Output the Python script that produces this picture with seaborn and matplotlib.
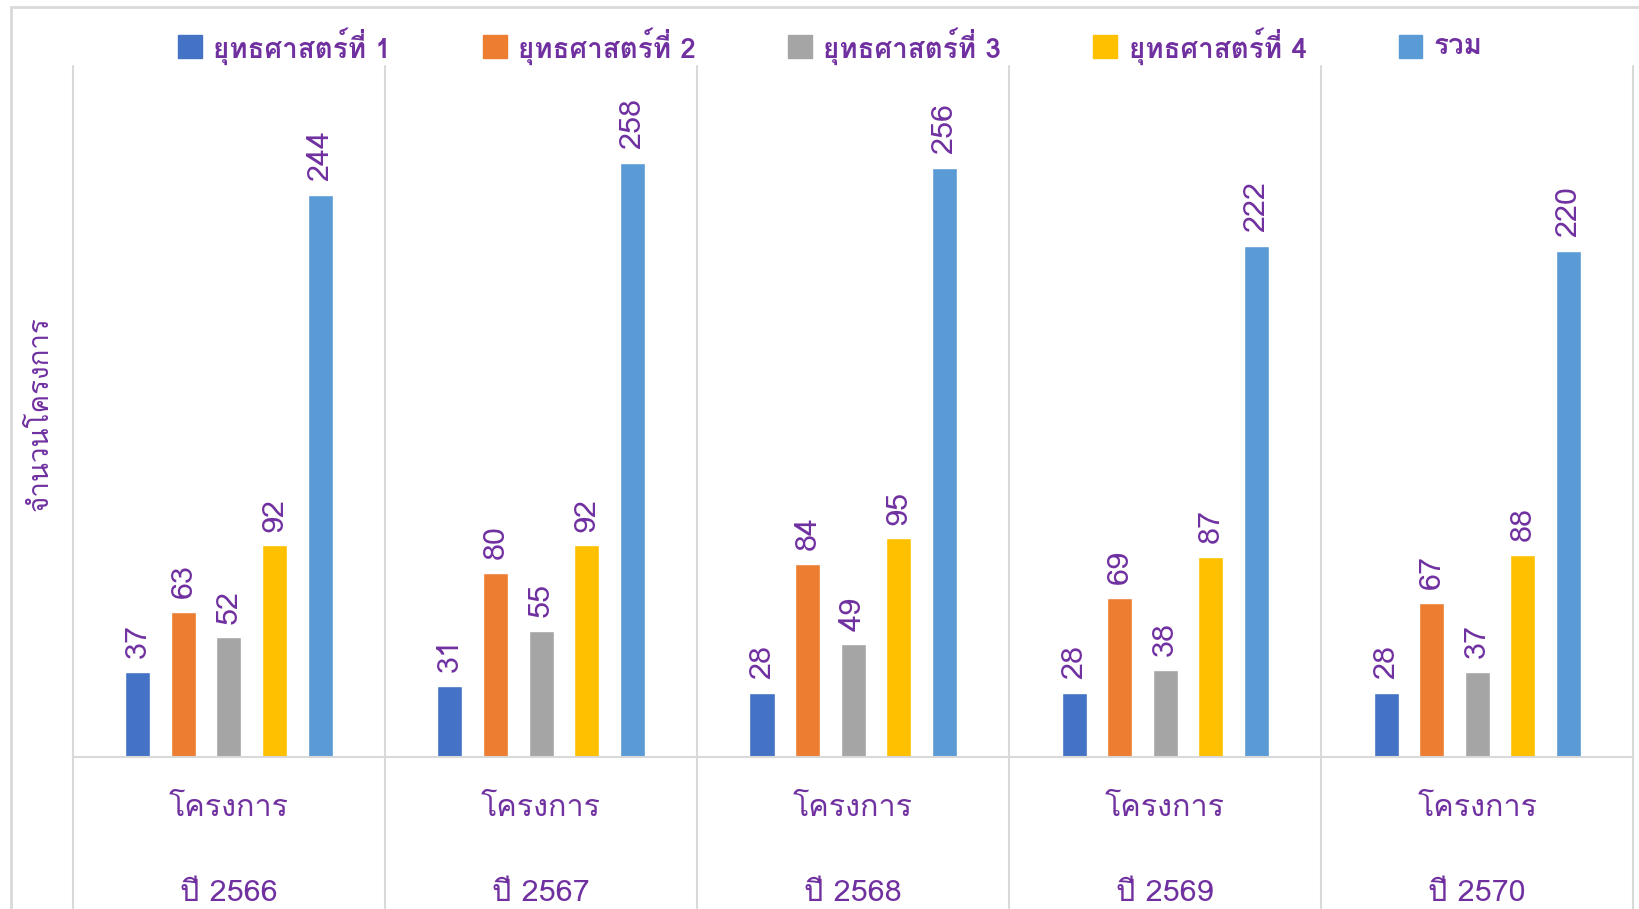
import matplotlib
matplotlib.use("Agg")
import matplotlib.pyplot as plt
from matplotlib import font_manager
from matplotlib.ft2font import FT2Font
from matplotlib.patches import Rectangle
import pandas as pd
import seaborn as sns

# data
years = ["ปี 2566", "ปี 2567", "ปี 2568", "ปี 2569", "ปี 2570"]
series = ["ยุทธศาสตร์ที่ 1", "ยุทธศาสตร์ที่ 2", "ยุทธศาสตร์ที่ 3", "ยุทธศาสตร์ที่ 4", "รวม"]
s1 = [37, 31, 28, 28, 28]
s2 = [63, 80, 84, 69, 67]
s3 = [52, 55, 49, 38, 37]
s4 = [92, 92, 95, 87, 88]
total = [244, 258, 256, 222, 220]
colors = ["#4472C4", "#ED7D31", "#A5A5A5", "#FFC000", "#5B9BD5"]
purple = "#7030A0"

# find an installed font that has Thai glyphs
thai_font = None
for f in font_manager.fontManager.ttflist:
    try:
        if 0x0E01 in FT2Font(f.fname).get_charmap():
            thai_font = f.name
            break
    except Exception:
        pass

sns.set_theme(style="white")
plt.rcParams["font.family"] = [thai_font, "DejaVu Sans"] if thai_font else ["DejaVu Sans"]

rows = []
for name, vals in zip(series, [s1, s2, s3, s4, total]):
    for y, v in zip(years, vals):
        rows.append({"year": y, "series": name, "value": v})
df = pd.DataFrame(rows)

fig = plt.figure(figsize=(16.39, 9.09), dpi=100)
ax = fig.add_axes([0.0445, 0.167, 0.952, 0.76])

sns.barplot(data=df, x="year", y="value", hue="series", palette=colors,
            width=0.73, gap=0.45, saturation=1, ax=ax, legend=False)

ax.set_ylim(0, 300)
ax.set_xlim(-0.5, 4.5)
ax.set_yticks([])
ax.set_xticks([])
ax.set_xlabel("")
ax.set_ylabel("")
for sp in ["top", "right", "left"]:
    ax.spines[sp].set_visible(False)
ax.spines["bottom"].set_color("#D9D9D9")
ax.spines["bottom"].set_linewidth(1.5)

# category separators, extending below the axis
for i in range(6):
    ax.plot([i - 0.5, i - 0.5], [-80, 300], color="#D9D9D9", lw=1.5,
            clip_on=False, zorder=0)

# data labels, rotated
for cont in ax.containers:
    for bar in cont:
        h = bar.get_height()
        ax.text(bar.get_x() + bar.get_width() / 2, h + 6, f"{h:.0f}",
                rotation=90, ha="center", va="bottom", fontsize=22, color=purple)

# two-line category labels
for i, y in enumerate(years):
    ax.text(i, -22, "โครงการ", ha="center", va="center", fontsize=22,
            color=purple)
    ax.text(i, -59, y, ha="center", va="center", fontsize=22, color=purple)

# legend
leg_x = [0.1085, 0.2947, 0.4809, 0.6671, 0.8533]
for x, c, name in zip(leg_x, colors, series):
    fig.patches.append(Rectangle((x, 0.936), 0.0145, 0.026, color=c,
                                 transform=fig.transFigure))
    fig.text(x + 0.0215, 0.949, name, ha="left", va="center", fontsize=20,
             fontweight="bold", color=purple)

fig.text(0.025, 0.545, "จำนวนโครงการ", rotation=90, ha="center", va="center",
         fontsize=20, color=purple)

# outer chart border
fig.patches.append(Rectangle((0.0065, -0.05), 1.2, 1.042, fill=False,
                             edgecolor="#D9D9D9", lw=2, transform=fig.transFigure))

fig.savefig("out.png", dpi=100)
